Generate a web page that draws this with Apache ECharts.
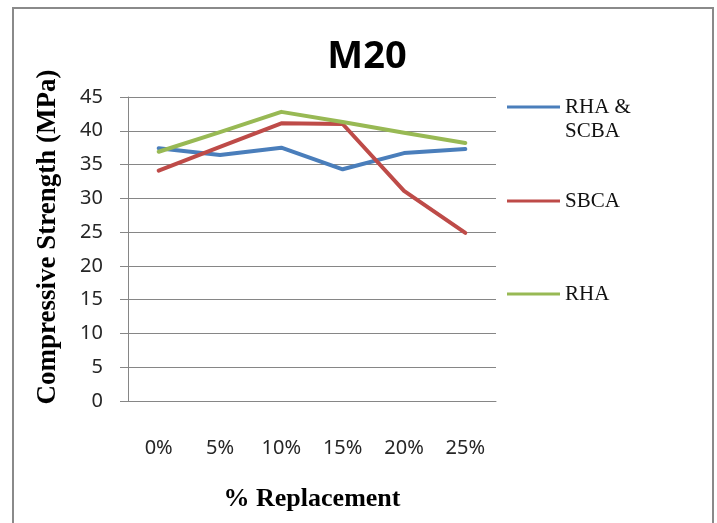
<!DOCTYPE html>
<html>
<head>
<meta charset="utf-8">
<script src="https://cdn.jsdelivr.net/npm/echarts@6/dist/echarts.min.js"></script>
<style>
  html, body { margin: 0; padding: 0; background: #fff; }
  #myChart { width: 717px; height: 523px; }
</style>
</head>
<body>
<div id="myChart"></div>
<script>
// data
const categories = ["0%", "5%", "10%", "15%", "20%", "25%"];
const rhaScba = [37.4, 36.4, 37.5, 34.3, 36.7, 37.3];
const sbca = [34.1, 37.6, 41.1, 41.0, 31.1, 24.9];
const rha = [36.9, 39.8, 42.8, 41.3, 39.7, 38.2];
const yTicks = { min: 0, max: 45, interval: 5 };

const serif = "'Liberation Serif', 'Times New Roman', serif";
const sans = "'Noto Sans', 'Open Sans', sans-serif";

// one legend per item so each can sit where the reference puts it
const legendItem = (name, top, formatter) => ({
  data: [name],
  left: 502,
  top: top,
  icon: "rect",
  itemWidth: 53,
  itemHeight: 3,
  formatter: formatter,
  textStyle: { fontFamily: serif, fontSize: 21, color: "#111", lineHeight: 24 },
});

const lineSeries = (name, data, color) => ({
  name: name,
  type: "line",
  data: data,
  showSymbol: false,
  symbol: "none",
  color: color,
  lineStyle: { color: color, width: 4, join: "round", cap: "round" },
});

const option = {
  animation: false,
  title: {
    text: "M20",
    left: 362,
    top: 33,
    textAlign: "center",
    textStyle: { fontFamily: sans, fontWeight: "bold", fontSize: 38, color: "#000" },
  },
  legend: [
    // blank first line keeps the line marker level with "RHA &"
    legendItem("RHA &\nSCBA", 66, (name) => " \n" + name),
    legendItem("SBCA", 184),
    legendItem("RHA", 277),
  ],
  grid: { left: 128, right: 221, top: 97, bottom: 122 },
  xAxis: {
    type: "category",
    data: categories,
    boundaryGap: true,
    name: "% Replacement",
    nameLocation: "middle",
    nameGap: 85,
    nameTextStyle: { fontFamily: serif, fontWeight: "bold", fontSize: 26, color: "#000" },
    axisLine: { lineStyle: { color: "#868686", width: 1 } },
    axisTick: { show: false },
    axisLabel: { margin: 37, fontFamily: sans, fontSize: 20, color: "#262626" },
  },
  yAxis: {
    type: "value",
    min: yTicks.min,
    max: yTicks.max,
    interval: yTicks.interval,
    name: "Compressive Strength (MPa)",
    nameLocation: "middle",
    nameGap: 66,
    nameTextStyle: {
      fontFamily: serif,
      fontWeight: "bold",
      fontSize: 27,
      color: "#000",
      padding: [0, 0, 0, 24],
    },
    axisLine: { show: true, lineStyle: { color: "#868686", width: 1 } },
    axisTick: { show: true, length: 8, lineStyle: { color: "#868686" } },
    axisLabel: { margin: 25, fontFamily: sans, fontSize: 20, color: "#262626" },
    splitLine: { show: true, lineStyle: { color: "#868686", width: 1 } },
  },
  series: [
    lineSeries("RHA &\nSCBA", rhaScba, "#4A7EBB"),
    lineSeries("SBCA", sbca, "#BE4B48"),
    lineSeries("RHA", rha, "#98B954"),
  ],
  graphic: [
    {
      type: "rect",
      silent: true,
      shape: { x: 13, y: 8, width: 700, height: 540 },
      style: { fill: null, stroke: "#8a8a8a", lineWidth: 2 },
    },
  ],
};

const chartInstance = echarts.init(document.getElementById("myChart"));
chartInstance.setOption(option);
</script>
</body>
</html>
